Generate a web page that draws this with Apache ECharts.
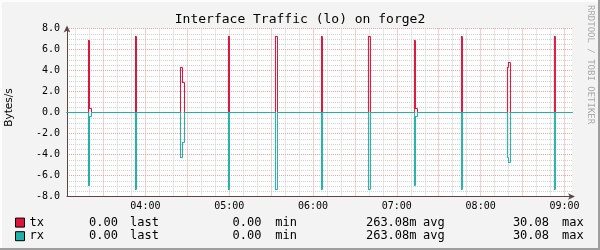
<!DOCTYPE html>
<html><head><meta charset="utf-8">
<script src="https://cdn.jsdelivr.net/npm/echarts@6/dist/echarts.min.js"></script>
<style>html,body{margin:0;padding:0;background:#f3f3f3}#c{width:600px;height:250px}</style>
</head><body><div id="c"></div>
<script>
const titleText = 'Interface Traffic (lo) on forge2';
const yAxisName = 'Bytes/s';
const watermark = 'RRDTOOL / TOBI OETIKER';
const seriesNames = ['tx', 'rx'];
const seriesColors = ['#dc143c', '#20b2aa'];
// sample times, minutes after 03:00 (each value holds until the next time)
const times = [3.87, 19.26, 19.98, 21.41, 52.90, 53.62, 85.12, 86.55, 87.98, 119.47, 120.19,
  153.12, 154.55, 186.05, 186.77, 219.69, 221.12, 252.62, 253.34, 254.77, 286.26, 286.98,
  319.19, 319.91, 321.34, 352.83, 353.55, 365.4];
const txValues = [0, 6.86, 0.38, 0, 7.24, 0, 4.29, 2.86, 0, 7.24, 0,
  7.24, 0, 7.24, 0, 7.24, 0, 6.86, 0.38, 0, 7.24, 0,
  4.29, 4.76, 0, 7.24, 0, 0];
const rxValues = [0, -6.95, -0.38, 0, -7.33, 0, -4.29, -2.86, 0, -7.33, 0,
  -7.33, 0, -7.33, 0, -7.33, 0, -6.95, -0.38, 0, -7.33, 0,
  -4.29, -4.76, 0, -7.33, 0, 0];
const xMin = 3.87, xMax = 365.4;
const yMin = -8, yMax = 8, yStep = 2;
const statLabels = ['last', 'min', 'avg', 'max'];
const txStats = ['0.00', '0.00', '263.08m', '30.08'];
const rxStats = ['0.00', '0.00', '263.08m', '30.08'];

const mono = 'DejaVu Sans Mono';
const chart = echarts.init(document.getElementById('c'), null, {renderer: 'canvas'});
const pad = n => (n < 10 ? '0' : '') + n;
const valRight = [118, 261.5, 416.5, 549];
const labLeft = [130, 275.3, 423, 562];
const graphics = [
  {type: 'rect', shape: {x: 0, y: 0, width: 600, height: 2}, style: {fill: '#fcfcfc'}, silent: true},
  {type: 'rect', shape: {x: 0, y: 0, width: 2, height: 250}, style: {fill: '#fcfcfc'}, silent: true},
  {type: 'rect', shape: {x: 0, y: 248, width: 600, height: 2}, style: {fill: '#9e9e9e'}, silent: true},
  {type: 'rect', shape: {x: 598, y: 0, width: 2, height: 250}, style: {fill: '#9e9e9e'}, silent: true},
  {type: 'text', x: 590.5, y: 5, rotation: -Math.PI / 2, silent: true,
   style: {text: watermark, font: '9px ' + mono, fill: '#aaaaaa', align: 'left', verticalAlign: 'middle'}},
  {type: 'text', x: 9.5, y: 107.5, rotation: Math.PI / 2, silent: true,
   style: {text: yAxisName, font: '10.5px "DejaVu Sans"', fill: '#000', align: 'center', verticalAlign: 'middle'}}
];
[txStats, rxStats].forEach((stats, r) => {
  const y = 222.5 + r * 13.6;
  stats.forEach((s, i) => {
    graphics.push({type: 'text', x: valRight[i], y: y, silent: true,
      style: {text: s, font: '12px ' + mono, fill: '#000', align: 'right', verticalAlign: 'middle'}});
    graphics.push({type: 'text', x: labLeft[i], y: y, silent: true,
      style: {text: statLabels[i], font: '12px ' + mono, fill: '#000', align: 'left', verticalAlign: 'middle'}});
  });
});

// step line: each sample holds its value until the next sample time
function stepSeries(name, color, values) {
  return {
    name: name, type: 'custom', coordinateSystem: 'cartesian2d', color: color,
    encode: {x: 0, y: 1},
    data: times.map((t, i) => [t, values[i]]),
    renderItem: function (params, api) {
      const i = params.dataIndex;
      if (i >= times.length - 1) return null;
      const p0 = api.coord([api.value(0), api.value(1)]);
      const p1 = api.coord([times[i + 1], api.value(1)]);
      const p2 = api.coord([times[i + 1], values[i + 1]]);
      return {type: 'polyline', silent: true, shape: {points: [p0, p1, p2]},
        style: {stroke: color, lineWidth: 1, fill: null, lineCap: 'square', lineJoin: 'miter'}};
    }
  };
}

const axisLineColor = '#5c4444';
chart.setOption({
  animation: false,
  backgroundColor: '#f3f3f3',
  title: {text: titleText, left: 'center', top: 13, padding: 0,
    textStyle: {fontFamily: mono, fontSize: 13, fontWeight: 'normal', color: '#000'}},
  legend: {orient: 'vertical', left: 15, top: 215.8, padding: 0, itemWidth: 9, itemHeight: 9, itemGap: 0,
    icon: 'rect', selectedMode: false, data: seriesNames,
    itemStyle: {borderColor: '#000', borderWidth: 1},
    textStyle: {fontFamily: mono, fontSize: 12, color: '#000', lineHeight: 13.6}},
  grid: {show: true, left: 67, top: 28.5, width: 505, height: 168, backgroundColor: '#ffffff', borderWidth: 0,
    containLabel: false, outerBoundsMode: 'none'},
  xAxis: {
    type: 'value', min: xMin, max: xMax, minInterval: 30, maxInterval: 30, splitNumber: 12,
    axisLine: {onZero: false, lineStyle: {color: axisLineColor, width: 1}, symbol: ['none', 'arrow'], symbolSize: [5, 7], symbolOffset: [0, 3]},
    axisTick: {show: false},
    axisLabel: {margin: 5, fontFamily: mono, fontSize: 10, color: '#000',
      formatter: v => (Math.abs(v % 60) < 1e-6 ? pad(3 + Math.round(v / 60)) + ':00' : '')},
    splitLine: {show: true, showMinLine: false, showMaxLine: false, lineStyle: {color: '#f2a0a0', type: [1, 1], width: 1}},
    minorTick: {show: false, splitNumber: 3},
    minorSplitLine: {show: true, lineStyle: {color: '#d0d0d0', type: [1, 1], width: 1}}
  },
  yAxis: {
    type: 'value', min: yMin, max: yMax, interval: yStep,
    axisLine: {show: true, lineStyle: {color: axisLineColor, width: 1}, symbol: ['none', 'arrow'], symbolSize: [5, 7], symbolOffset: [0, 3]},
    axisTick: {show: false},
    axisLabel: {margin: 7, fontFamily: mono, fontSize: 10, color: '#000', formatter: v => v.toFixed(1)},
    splitLine: {show: true, showMinLine: false, lineStyle: {color: '#f2a0a0', type: [1, 1], width: 1}},
    minorTick: {show: false, splitNumber: 4},
    minorSplitLine: {show: true, lineStyle: {color: '#d0d0d0', type: [1, 1], width: 1}}
  },
  graphic: graphics,
  series: [
    stepSeries(seriesNames[0], seriesColors[0], txValues),
    stepSeries(seriesNames[1], seriesColors[1], rxValues)
  ]
});
</script></body></html>
